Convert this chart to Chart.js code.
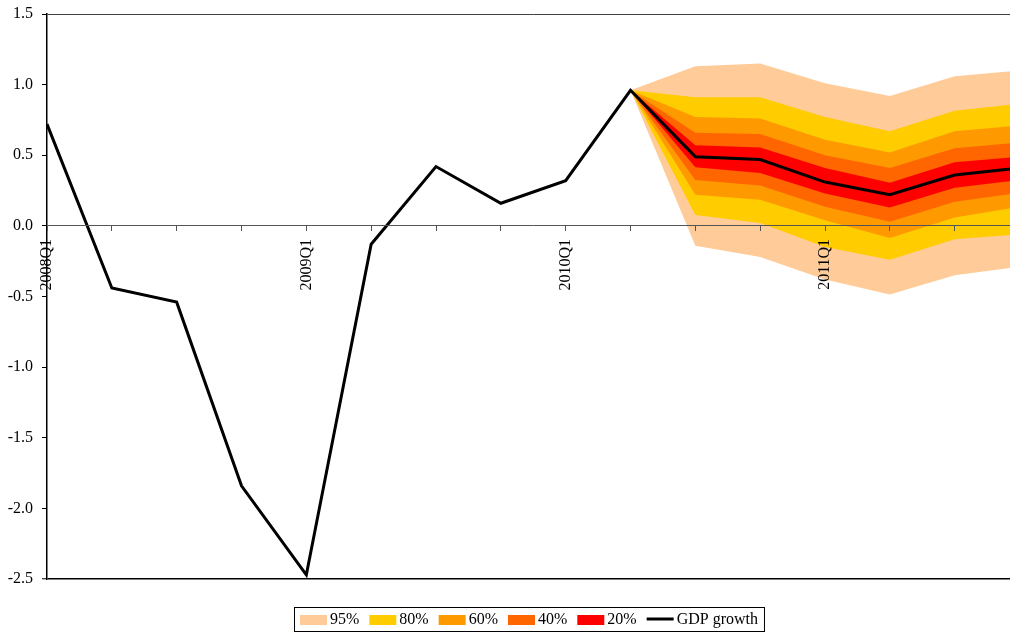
<!DOCTYPE html>
<html>
<head>
<meta charset="utf-8">
<script src="https://cdn.jsdelivr.net/npm/chart.js@4/dist/chart.umd.min.js"></script>
<style>
  html, body { margin: 0; padding: 0; background: #fff; overflow: hidden; width: 1010px; height: 635px; }
  canvas { display: block; }
</style>
</head>
<body>
<canvas id="c" width="1056" height="635"></canvas>
<script>
const categories = ['2008Q1','2008Q2','2008Q3','2008Q4','2009Q1','2009Q2','2009Q3','2009Q4',
                    '2010Q1','2010Q2','2010Q3','2010Q4','2011Q1','2011Q2','2011Q3','2011Q4'];
const gdpGrowth = [0.72, -0.44, -0.54, -1.84, -2.47, -0.13, 0.42, 0.16, 0.32, 0.96, 0.49, 0.47, 0.31, 0.22, 0.36, 0.41];
const N = null;
const upper95 = [N,N,N,N,N,N,N,N,N, 0.96, 1.13, 1.15, 1.01, 0.92, 1.06, 1.10];
const upper80 = [N,N,N,N,N,N,N,N,N, 0.96, 0.91, 0.91, 0.77, 0.67, 0.815, 0.865];
const upper60 = [N,N,N,N,N,N,N,N,N, 0.96, 0.77, 0.76, 0.61, 0.52, 0.67, 0.71];
const upper40 = [N,N,N,N,N,N,N,N,N, 0.96, 0.66, 0.65, 0.50, 0.41, 0.55, 0.59];
const upper20 = [N,N,N,N,N,N,N,N,N, 0.96, 0.57, 0.555, 0.41, 0.305, 0.45, 0.49];
const lower20 = [N,N,N,N,N,N,N,N,N, 0.96, 0.415, 0.375, 0.23, 0.13, 0.27, 0.325];
const lower40 = [N,N,N,N,N,N,N,N,N, 0.96, 0.325, 0.285, 0.135, 0.03, 0.17, 0.235];
const lower60 = [N,N,N,N,N,N,N,N,N, 0.96, 0.22, 0.185, 0.04, -0.085, 0.06, 0.135];
const lower80 = [N,N,N,N,N,N,N,N,N, 0.96, 0.077, 0.02, -0.15, -0.24, -0.095, -0.06];
const lower95 = [N,N,N,N,N,N,N,N,N, 0.96, -0.14, -0.22, -0.38, -0.485, -0.35, -0.29];
const yTicks = [1.5, 1.0, 0.5, 0.0, -0.5, -1.0, -1.5, -2.0, -2.5];

const bandLabels = ['95%', '80%', '60%', '40%', '20%'];
const bandColors = ['#FFCC99', '#FFCC00', '#FF9900', '#FF6600', '#FF0000'];
const lineLabel = 'GDP growth';
const FONT = '"Liberation Serif", "Times New Roman", serif';

function band(data, color, fill) {
  return { data, backgroundColor: color, borderColor: 'transparent', borderWidth: 0,
           pointRadius: 0, pointHoverRadius: 0, fill: fill, tension: 0 };
}

const datasets = [
  { label: lineLabel, data: gdpGrowth, borderColor: '#000', borderWidth: 3, pointRadius: 0,
    fill: false, tension: 0, borderJoinStyle: 'miter' },
  band(upper20, bandColors[4], '+1'), band(lower20, bandColors[4], false),
  band(upper40, bandColors[3], '+1'), band(lower40, bandColors[3], false),
  band(upper60, bandColors[2], '+1'), band(lower60, bandColors[2], false),
  band(upper80, bandColors[1], '+1'), band(lower80, bandColors[1], false),
  band(upper95, bandColors[0], '+1'), band(lower95, bandColors[0], false)
];

const legendPlugin = {
  id: 'boxLegend',
  afterDraw(chart) {
    const ctx = chart.ctx;
    ctx.save();
    ctx.font = '16px ' + FONT;
    const boxW = 27, boxH = 10, gap = 3, itemGap = 10, pad = 6;
    const items = bandLabels.map((t, i) => ({ text: t, color: bandColors[i], line: false }))
      .concat([{ text: lineLabel, color: '#000', line: true }]);
    let total = pad * 2;
    items.forEach((it, i) => {
      it.w = ctx.measureText(it.text).width;
      total += boxW + gap + it.w + (i < items.length - 1 ? itemGap : 0);
    });
    const cx = 529, top = 607, h = 24;
    const left = Math.round(cx - total / 2);
    ctx.strokeStyle = '#000';
    ctx.lineWidth = 1;
    ctx.strokeRect(left + 0.5, top + 0.5, total, h);
    let x = left + pad;
    const cy = top + h / 2;
    ctx.textBaseline = 'middle';
    ctx.fillStyle = '#000';
    items.forEach((it) => {
      if (it.line) {
        ctx.strokeStyle = '#000';
        ctx.lineWidth = 3;
        ctx.beginPath();
        ctx.moveTo(x, cy);
        ctx.lineTo(x + boxW, cy);
        ctx.stroke();
      } else {
        ctx.fillStyle = it.color;
        ctx.fillRect(x, cy - boxH / 2 + 1, boxW, boxH);
      }
      x += boxW + gap;
      ctx.fillStyle = '#000';
      ctx.fillText(it.text, x, cy + 1);
      x += it.w + itemGap;
    });
    ctx.restore();
  }
};

new Chart(document.getElementById('c'), {
  type: 'line',
  data: { labels: categories, datasets },
  options: {
    responsive: false,
    animation: false,
    events: [],
    layout: { padding: { top: 14, right: 36.5, bottom: 56, left: 0 } },
    plugins: { legend: { display: false }, tooltip: { enabled: false } },
    scales: {
      x: {
        type: 'category',
        position: { y: 0 },
        offset: false,
        afterFit(scale) { scale.height = 0; },
        grid: { display: true, drawOnChartArea: false, drawTicks: true, tickLength: 5,
                tickColor: '#555', tickWidth: 1, z: 1 },
        border: { display: true, color: '#555', width: 1, z: 1 },
        ticks: {
          z: 1,
          autoSkip: false, maxRotation: 90, minRotation: 90, padding: 8,
          color: '#000', font: { family: FONT, size: 16 },
          callback(v) { const l = this.getLabelForValue(v); return l.endsWith('Q1') ? l : ''; }
        }
      },
      y: {
        min: -2.5, max: 1.5,
        afterFit(scale) { scale.width = 47; scale.paddingTop = 0; scale.paddingBottom = 0; },
        afterBuildTicks(scale) { scale.ticks = yTicks.map(v => ({ value: v })); },
        grid: {
          drawTicks: true, tickLength: 5, tickColor: '#000', tickWidth: 1,
          color(ctx) {
            if (!ctx.tick) return 'transparent';
            if (ctx.tick.value === 1.5) return '#404040';
            if (ctx.tick.value === -2.5) return '#000';
            return 'transparent';
          },
          lineWidth(ctx) { return (ctx.tick && ctx.tick.value === -2.5) ? 1.5 : 1; }
        },
        border: { display: true, color: '#000', width: 1.5 },
        ticks: {
          padding: 9, color: '#000', font: { family: FONT, size: 16 },
          callback(v) { return Number(v).toFixed(1); }
        }
      }
    }
  },
  plugins: [legendPlugin]
});
</script>
</body>
</html>
